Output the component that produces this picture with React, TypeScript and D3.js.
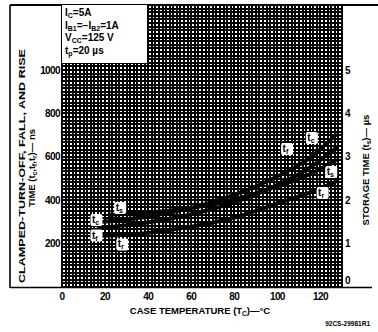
import { useEffect, useRef } from "react";
import * as d3 from "d3";

// case temperature, °C
const temps = [18, 40, 60, 80, 100, 115, 127];
// clamped turn-off, fall and rise time, ns
const tcValues = [300, 325, 365, 425, 510, 595, 700];
const tfValues = [272, 298, 335, 390, 470, 550, 640];
const trValues = [235, 250, 278, 320, 385, 435, 485];
// storage time, µs (right axis)
const tsTemps = [22, 40, 60, 80, 100, 115, 127];
const tsValues = [1.66, 1.72, 1.82, 2.02, 2.32, 2.6, 2.92];

const xTicks = [0, 20, 40, 60, 80, 100, 120];
const leftTicks = [200, 400, 600, 800, 1000];
const rightTicks = [0, 1, 2, 3, 4, 5];

// curve tags: [subscript, temp, value on left scale (ns)]
const curveTags: [string, number, number][] = [
  ["s", 27, 364],
  ["c", 16, 309],
  ["f", 16, 237],
  ["r", 28, 196],
  ["c", 116, 687],
  ["f", 104.5, 636],
  ["s", 125, 530],
  ["r", 121, 433],
];

const conditions = [
  ["I", "C", "=5A"],
  ["I", "B1", "=\u2212I", "B2", "=1A"],
  ["V", "CC", "=125 V"],
  ["t", "p", "=20 \u00b5s"],
];

const FONT = "'Liberation Sans', Arial, sans-serif";

export default function App() {
  const svgRef = useRef<SVGSVGElement>(null);

  useEffect(() => {
    const svg = d3.select(svgRef.current);
    svg.selectAll("*").remove();

    const left = 62, right = 342, top = 5, bottom = 287;
    const x = d3.scaleLinear().domain([0, 130]).range([left, right]);
    const yL = d3.scaleLinear().domain([0, 1300]).range([bottom, top]);
    const yR = d3.scaleLinear().domain([0, 6.5]).range([bottom, top]);

    svg.append("rect").attr("width", 378).attr("height", 332).attr("fill", "#fff");

    // graph paper, 12 small squares to a major division
    const g = svg.append("g");
    g.append("rect")
      .attr("x", left).attr("y", top)
      .attr("width", right - left).attr("height", bottom - top)
      .attr("fill", "#fff");
    g.selectAll("line.v")
      .data(d3.range(0, 130.01, 20 / 12))
      .join("line")
      .attr("x1", d => x(d)).attr("x2", d => x(d))
      .attr("y1", top).attr("y2", bottom)
      .attr("stroke", "#000")
      .attr("stroke-width", 2)
      .attr("shape-rendering", "crispEdges");
    g.selectAll("line.h")
      .data(d3.range(0, 1300.01, 200 / 12))
      .join("line")
      .attr("x1", left).attr("x2", right)
      .attr("y1", d => yL(d)).attr("y2", d => yL(d))
      .attr("stroke", "#000")
      .attr("stroke-width", 2)
      .attr("shape-rendering", "crispEdges");

    // frame
    const frame = svg.append("g").attr("stroke", "#000").attr("fill", "none");
    frame.append("line").attr("x1", 10).attr("x2", 10).attr("y1", 5).attr("y2", 288).attr("stroke-width", 1.6);
    frame.append("line").attr("x1", 10).attr("x2", 378).attr("y1", 5).attr("y2", 5).attr("stroke-width", 1.8);
    frame.append("line").attr("x1", 10).attr("x2", 372).attr("y1", 287.5).attr("y2", 287.5).attr("stroke-width", 1.6);
    frame.append("line").attr("x1", left).attr("x2", left).attr("y1", top).attr("y2", bottom).attr("stroke-width", 1.5);
    frame.append("line").attr("x1", right).attr("x2", right).attr("y1", top).attr("y2", bottom).attr("stroke-width", 1.5);

    // conditions box
    svg.append("rect")
      .attr("x", left).attr("y", top)
      .attr("width", 85).attr("height", 58)
      .attr("fill", "#fff");
    const cond = svg.append("g")
      .attr("font-family", FONT).attr("font-weight", "bold")
      .attr("font-size", 10).attr("fill", "#000");
    conditions.forEach((parts, i) => {
      const t = cond.append("text").attr("x", 65).attr("y", 16 + i * 12.7);
      parts.forEach((p, j) => {
        const sub = j % 2 === 1;
        t.append("tspan")
          .attr("font-size", sub ? 7 : 10)
          .attr("dy", sub ? 2 : j === 0 ? 0 : -2)
          .text(p);
      });
    });

    // curves
    const line = d3.line<[number, number]>()
      .x(d => x(d[0]))
      .y(d => d[1])
      .curve(d3.curveMonotoneX);
    const series: [number, number][][] = [
      temps.map((t, i) => [t, yL(tcValues[i])]),
      temps.map((t, i) => [t, yL(tfValues[i])]),
      temps.map((t, i) => [t, yL(trValues[i])]),
      tsTemps.map((t, i) => [t, yR(tsValues[i])]),
    ];
    svg.append("g")
      .selectAll("path")
      .data(series)
      .join("path")
      .attr("d", d => line(d))
      .attr("fill", "none")
      .attr("stroke", "#000")
      .attr("stroke-width", 3.8)
      .attr("stroke-linecap", "round");

    // curve tags
    const tags = svg.append("g").attr("font-family", FONT).attr("font-weight", "bold");
    curveTags.forEach(([s, t, v]) => {
      const cx = x(t), cy = yL(v);
      tags.append("rect")
        .attr("x", cx - 6).attr("y", cy - 6)
        .attr("width", 12).attr("height", 12)
        .attr("rx", 2)
        .attr("fill", "#fff");
      const txt = tags.append("text")
        .attr("x", cx - 4.5).attr("y", cy + 3)
        .attr("font-size", 10).attr("fill", "#000");
      txt.append("tspan").text("t");
      txt.append("tspan").attr("font-size", 7).attr("dy", 2).text(s);
    });

    // tick labels
    const ticks = svg.append("g")
      .attr("font-family", FONT).attr("font-weight", "bold")
      .attr("font-size", 10).attr("fill", "#000");
    ticks.selectAll("text.l")
      .data(leftTicks)
      .join("text")
      .attr("x", 60).attr("y", d => yL(d) + 3.5)
      .attr("text-anchor", "end")
      .attr("letter-spacing", -0.6)
      .text(d => d);
    ticks.selectAll("text.r")
      .data(rightTicks)
      .join("text")
      .attr("x", 345).attr("y", d => (d === 0 ? yR(d) - 3 : yR(d) + 3.5))
      .text(d => d);
    ticks.selectAll("text.x")
      .data(xTicks)
      .join("text")
      .attr("x", d => x(d)).attr("y", 300)
      .attr("text-anchor", "middle")
      .attr("letter-spacing", -0.6)
      .text(d => d);

    // axis titles
    const titles = svg.append("g")
      .attr("font-family", FONT).attr("font-weight", "bold")
      .attr("font-size", 9.5).attr("fill", "#000");
    titles.append("text")
      .attr("transform", "translate(25,166) rotate(-90)")
      .attr("text-anchor", "middle")
      .attr("textLength", 234).attr("lengthAdjust", "spacingAndGlyphs")
      .text("CLAMPED-TURN-OFF, FALL, AND RISE");
    const t2 = titles.append("text")
      .attr("transform", "translate(35,168) rotate(-90)")
      .attr("text-anchor", "middle");
    t2.append("tspan").text("TIME (t");
    t2.append("tspan").attr("font-size", 6.5).attr("dy", 2).text("c");
    t2.append("tspan").attr("dy", -2).text(",t");
    t2.append("tspan").attr("font-size", 6.5).attr("dy", 2).text("f");
    t2.append("tspan").attr("dy", -2).text(",t");
    t2.append("tspan").attr("font-size", 6.5).attr("dy", 2).text("r");
    t2.append("tspan").attr("dy", -2).text(")\u2014 ns");

    const t3 = titles.append("text")
      .attr("transform", "translate(369,170) rotate(-90)")
      .attr("text-anchor", "middle");
    t3.append("tspan").text("STORAGE TIME (t");
    t3.append("tspan").attr("font-size", 6.5).attr("dy", 2).text("s");
    t3.append("tspan").attr("dy", -2).text(")\u2014 \u00b5s");

    const t4 = titles.append("text")
      .attr("x", 200).attr("y", 314)
      .attr("text-anchor", "middle");
    t4.append("tspan").text("CASE TEMPERATURE (T");
    t4.append("tspan").attr("font-size", 6.5).attr("dy", 2).text("C");
    t4.append("tspan").attr("dy", -2).text(")\u2014\u00b0C");

    svg.append("text")
      .attr("x", 370).attr("y", 326)
      .attr("text-anchor", "end")
      .attr("font-family", FONT).attr("font-weight", "bold")
      .attr("font-size", 6.5).attr("fill", "#000")
      .text("92CS-29981R1");
  }, []);

  return (
    <svg
      ref={svgRef}
      width={378}
      height={332}
      style={{ display: "block", position: "absolute", left: 0, top: 0 }}
    />
  );
}
